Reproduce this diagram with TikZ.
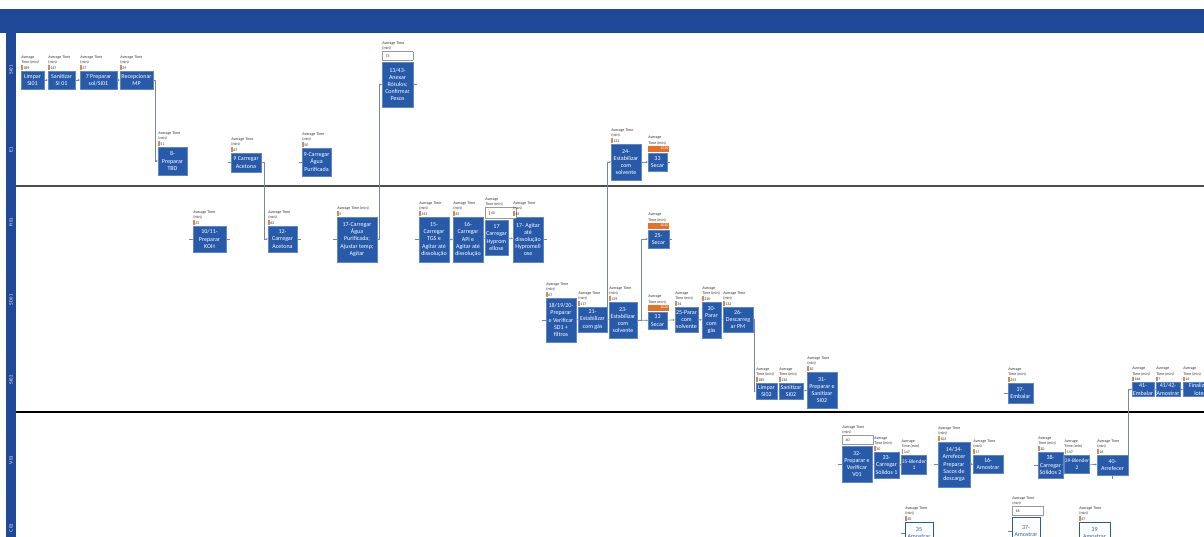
\documentclass[tikz,border=0pt]{standalone}
\usepackage{fontspec}
\setmainfont{Carlito}
\usetikzlibrary{arrows.meta}

\definecolor{band}{RGB}{31,73,150}
\definecolor{boxblue}{RGB}{40,90,170}
\definecolor{boxedge}{RGB}{95,135,200}
\definecolor{tickor}{RGB}{214,140,80}
\definecolor{baror}{RGB}{232,112,36}
\definecolor{wire}{RGB}{120,135,155}

% small orange marker in front of a time value
\newcommand\otick{\textcolor{tickor}{\rule[-0.6pt]{1.4pt}{4.4pt}}\,}
% time tag above a step: header lines and value
\newcommand\avgtag[3]{\node[avgtxt,anchor=south west] (#1-t) at ([yshift=0.6pt]#1.north west) {#2\\\otick #3};}
% time tag whose value sits in a framed cell
\newcommand\avgframe[3]{\node[avgtxt,anchor=south west] (#1-t) at ([yshift=0.6pt]#1.north west) {#2\\\fcolorbox{black!40}{white}{\makebox[24pt][l]{#3}}};}
% time tag with a full orange bar
\newcommand\avgbar[3]{%
  \node[orangebar,anchor=south west] (#1-b) at ([yshift=1pt]#1.north west) {#3};
  \node[avgtxt,anchor=south west] (#1-t) at (#1-b.north west) {#2};}

\tikzset{
  pbox/.style={draw=boxedge, line width=0.4pt, fill=boxblue, text=white,
    font=\fontsize{6}{7.2}\selectfont, align=center, inner sep=0.5pt},
  wbox/.style={pbox, fill=white, draw=boxblue, text=boxblue},
  avgtxt/.style={font=\fontsize{4}{5.4}\selectfont, text=black!80, align=left, inner sep=0.3pt},
  orangebar/.style={fill=baror, text=white, font=\fontsize{4}{4.5}\selectfont,
    inner sep=0.4pt, minimum height=6pt, text width=20pt, align=right},
  conn/.style={draw=wire, line width=0.6pt, -{Stealth[length=2pt,width=2pt]}},
  stub/.style={draw=wire, line width=0.6pt},
  lanelbl/.style={rotate=90, text=white, font=\fontsize{4.6}{5}\selectfont\sffamily},
  sz/.style n args={2}{minimum width=#1pt, minimum height=#2pt},
}

\begin{document}
\begin{tikzpicture}[x=1pt,y=-1pt]
\useasboundingbox (0,0) rectangle (1204,537);
\clip (0,0) rectangle (1204,537);
\fill[white] (0,0) rectangle (1204,537);

% frame of the swimlane chart
\fill[band] (0,9) rectangle (1204,33);
\fill[band] (6,33) rectangle (16,537);
\draw[line width=1.6pt, black!70] (16,186) -- (1204,186);
\draw[line width=1.2pt, black] (16,412) -- (1204,412);

% lane names
\node[lanelbl] (lane1) at (11,70) {SI01};
\node[lanelbl] (lane2) at (11,150) {E1};
\node[lanelbl] (lane3) at (11,222) {R01};
\node[lanelbl] (lane4) at (11,300) {SD01};
\node[lanelbl] (lane5) at (11,380) {SI02};
\node[lanelbl] (lane6) at (11,460) {V01};
\node[lanelbl] (lane7) at (11,528) {C02};

% ---- lane SI01
\node[pbox, sz={23}{18}] (b1) at (32.5,80) {Limpar\\SI01};
\node[pbox, sz={27}{18}] (b2) at (61.5,80) {Sanitizar\\SI 01};
\node[pbox, sz={37}{18}] (b3) at (98.5,80) {7 Preparar\\sol/SI01};
\node[pbox, sz={33}{18}] (b4) at (136.5,80) {Recepcionar\\MP};
\node[pbox, sz={31}{45}] (b8) at (397.5,84.5) {13/43-\\Anexar\\Rótulos;\\Confirmar\\Pesos};

% ---- lane E1
\node[pbox, sz={29}{28}] (b5) at (172.5,161) {8-\\Preparar\\TBD};
\node[pbox, sz={30}{19}] (b6) at (246,162.5) {9 Carregar\\Acetona};
\node[pbox, sz={29}{28}] (b7) at (316.5,162) {9-Carregar\\Água\\Purificada};
\node[pbox, sz={30}{36}] (b9) at (626,162) {24-\\Estabilizar\\com\\solvente};
\node[pbox, sz={19}{18}] (b10) at (657.5,162) {33\\Secar};

% ---- lane R01
\node[pbox, sz={33}{26}] (b11) at (209.5,239) {10/11-\\Preparar\\KOH};
\node[pbox, sz={29}{26}] (b12) at (282.5,239) {12-\\Carregar\\Acetona};
\node[pbox, sz={40}{45}] (b13) at (357,239.5) {17-Carregar\\Água\\Purificada;\\Ajustar temp;\\Agitar};
\node[pbox, sz={30}{45}] (b14) at (434,239.5) {15-\\Carregar\\TGS e\\Agitar até\\dissolução};
\node[pbox, sz={30}{45}] (b15) at (468,239.5) {16-\\Carregar\\API e\\Agitar até\\dissolução};
\node[pbox, sz={23}{35}] (b16) at (496.5,237.5) {17\\Carregar\\Hyprom\\ellose};
\node[pbox, sz={30}{45}] (b17) at (528,239.5) {17- Agitar\\até\\dissolução\\Hypromell\\ose};
\node[pbox, sz={21}{18}] (b18) at (658.5,239) {25-\\Secar};

% ---- lane SD01
\node[pbox, sz={30}{44}] (b19) at (561,320) {18/19/20-\\Preparar\\e Verificar\\SD1 +\\filtros};
\node[pbox, sz={29}{25}] (b20) at (592.5,319.5) {21-\\Estabilizar\\com gás};
\node[pbox, sz={28}{36}] (b21) at (623,320) {23-\\Estabilizar\\com\\solvente};
\node[pbox, sz={19}{17}] (b22) at (657.5,320.5) {33\\Secar};
\node[pbox, sz={23}{25}] (b23) at (686.5,319.5) {25-Parar\\com\\solvente};
\node[pbox, sz={19}{36}] (b24) at (711.5,320) {30-\\Parar\\com\\gás};
\node[pbox, sz={30}{25}] (b25) at (738,319.5) {26-\\Descarreg\\ar PM};

% ---- lane SI02
\node[pbox, sz={21}{16}] (b26) at (766.5,391) {Limpar\\SI02};
\node[pbox, sz={24}{16}] (b27) at (791,391) {Sanitizar\\SI02};
\node[pbox, sz={30}{36}] (b28) at (822,390) {31-\\Preparar e\\Sanitizar\\SI02};
\node[pbox, sz={25}{20}] (b29) at (1020.5,393) {37-\\Embalar};
\node[pbox, sz={22}{14}] (b30) at (1143,389.5) {41-\\Embalar};
\node[pbox, sz={24}{14}] (b31) at (1168,389.5) {41/42-\\Amostrar};
\node[pbox, sz={32}{14}] (b32) at (1199,389.5) {Finalizar\\lote};

% ---- lane V01
\node[pbox, sz={30}{36}] (b33) at (857,464) {32-\\Preparar e\\Verificar\\V01};
\node[pbox, sz={25}{26}] (b34) at (886.5,465) {33-\\Carregar\\Sólidos 1};
\node[pbox, sz={24}{19}, font=\fontsize{5.4}{6.5}\selectfont] (b35) at (914,464.5) {35-Blender\\1};
\node[pbox, sz={32}{45}] (b36) at (954,464.5) {14/34-\\Arrefecer\\Preparar\\Sacos de\\descarga};
\node[pbox, sz={30}{18}] (b37) at (988,464) {16-\\Amostrar};
\node[pbox, sz={25}{26}] (b38) at (1050.5,465) {38-\\Carregar\\Sólidos 2};
\node[pbox, sz={24}{18}, font=\fontsize{5.4}{6.5}\selectfont] (b39) at (1077,464) {39-Blender\\2};
\node[pbox, sz={31}{20}] (b40) at (1112.5,465) {40-\\Arrefecer};

% ---- lane C02
\node[wbox, sz={28}{22}] (b41) at (919,533) {35\\Amostrar};
\node[wbox, sz={28}{28}] (b42) at (1026,531) {37-\\Amostrar};
\node[wbox, sz={31}{22}] (b43) at (1094.5,533) {39\\Amostrar};

% ---- time tags
\avgtag{b1}{Average\\Time (min)}{189}
\avgtag{b2}{Average Time\\(min)}{147}
\avgtag{b3}{Average Time\\(min)}{37}
\avgtag{b4}{Average Time\\(min)}{29}
\avgframe{b8}{Average Time\\(min)}{75}
\avgtag{b5}{Average Time\\(min)}{51}
\avgtag{b6}{Average Time\\(min)}{67}
\avgtag{b7}{Average Time\\(min)}{50}
\avgtag{b9}{Average Time\\(min)}{122}
\avgbar{b10}{Average\\Time (min)}{1020}
\avgtag{b11}{Average Time\\(min)}{33}
\avgtag{b12}{Average Time\\(min)}{62}
\node[avgtxt,anchor=south west] (b13-t) at ([yshift=0.6pt]b13.north west) {Average Time (min)\\\otick 5};
\avgtag{b14}{Average Time\\(min)}{141}
\avgtag{b15}{Average Time\\(min)}{45}
\avgframe{b16}{Average\\Time (min)}{\otick 43}
\avgtag{b17}{Average Time\\(min)}{45}
\avgbar{b18}{Average\\Time (min)}{1020}
\avgtag{b19}{Average Time\\(min)}{67}
\avgtag{b20}{Average Time\\(min)}{117}
\avgtag{b21}{Average Time\\(min)}{129}
\avgbar{b22}{Average\\Time (min)}{1020}
\avgtag{b23}{Average\\Time (min)}{34}
\avgtag{b24}{Average\\Time (min)}{220}
\avgtag{b25}{Average Time\\(min)}{132}
\avgtag{b26}{Average\\Time (min)}{185}
\avgtag{b27}{Average\\Time (min)}{136}
\avgtag{b28}{Average Time\\(min)}{30}
\avgtag{b29}{Average\\Time (min)}{253}
\avgtag{b30}{Average\\Time (min)}{146}
\avgtag{b31}{Average\\Time (min)}{7}
\avgtag{b32}{Average\\Time (min)}{14}
\avgframe{b33}{Average Time\\(min)}{40}
\avgtag{b34}{Average\\Time (min)}{30}
\avgtag{b35}{Average\\Time (min)}{147}
\avgtag{b36}{Average Time\\(min)}{103}
\avgtag{b37}{Average Time\\(min)}{17}
\avgtag{b38}{Average\\Time (min)}{30}
\avgtag{b39}{Average\\Time (min)}{147}
\avgtag{b40}{Average Time\\(min)}{16}
\avgtag{b41}{Average Time\\(min)}{30}
\avgframe{b42}{Average Time\\(min)}{18}
\avgtag{b43}{Average Time\\(min)}{47}

% ---- connectors
\draw[conn] (b1) -- (b2);
\draw[conn] (b2) -- (b3);
\draw[conn] (b3) -- (b4);
\draw[conn] (b4.east) -- ++(2,0) |- (b5.west);
\draw[conn] (b6.east) -- ++(3,0) |- (b12.west);
\draw[stub] (b6.west) -- ++(-3,0);
\draw[stub] (b7.west) -- ++(-3,0);
\draw[conn] (b13.east) -- ++(2,0) |- (b8.west);
\draw[stub] (b8.east) -- ++(4,0);
\draw[stub] (b11.west) -- ++(-4,0);
\draw[stub] (b11.east) -- ++(4,0);
\draw[stub] (b12.east) -- ++(4,0);
\draw[stub] (b13.west) -- ++(-4,0);
\draw[stub] (b14.west) -- ++(-4,0);
\draw[conn] (b14) -- (b15);
\draw[conn] (b15) -- (b16);
\draw[conn] (b16) -- (b17);
\draw[stub] (b17.east) -- ++(4,0);
\draw[conn] (b20.north east) |- (b9.west);
\draw[conn] (b9) -- (b10);
\draw[stub] (b10.east) -- ++(3,0);
\draw[conn] (b21.east) -- ++(4,0) |- (b18.west);
\draw[stub] (b18.east) -- ++(3,0);
\draw[stub] (b19.west) -- ++(-4,0);
\draw[conn] (b19) -- (b20);
\draw[conn] (b20) -- (b21);
\draw[conn] (b21) -- (b22);
\draw[conn] (b22) -- (b23);
\draw[conn] (b23) -- (b24);
\draw[conn] (b24) -- (b25);
\draw[conn] (b25.east) -- ++(1,0) |- (b26.west);
\draw[conn] (b26) -- (b27);
\draw[conn] (b27) -- (b28);
\draw[stub] (b29.west) -- ++(-4,0);
\draw[conn] (b40.north east) |- (b30.west);
\draw[conn] (b30) -- (b31);
\draw[conn] (b31) -- (b32);
\draw[stub] (b33.west) -- ++(-4,0);
\draw[conn] (b33) -- (b34);
\draw[conn] (b34) -- (b35);
\draw[stub] (b36.west) -- ++(-4,0);
\draw[conn] (b36) -- (b37);
\draw[stub] (b38.west) -- ++(-4,0);
\draw[conn] (b38) -- (b39);
\draw[conn] (b39) -- (b40);
\draw[stub] (b40.south) -- ++(0,4);
\draw[stub] (b41.west) -- ++(-4,0);
\draw[stub] (b42.west) -- ++(-4,0);
\end{tikzpicture}
\end{document}
